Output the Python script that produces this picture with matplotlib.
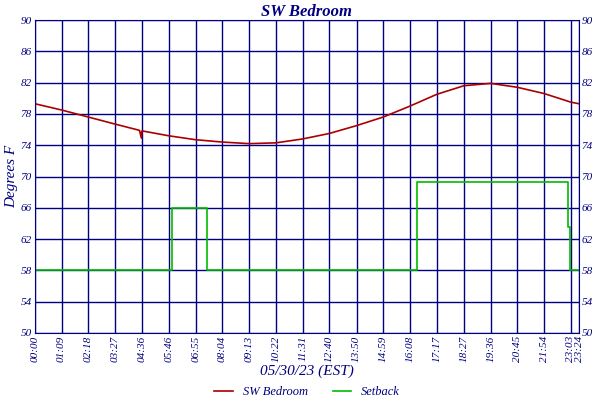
import matplotlib
matplotlib.use("Agg")
import matplotlib.pyplot as plt
import numpy as np

NAVY = "#000080"
plt.rcParams["font.family"] = "Liberation Serif"
plt.rcParams["font.style"] = "italic"

tick_labels = ["00:00", "01:09", "02:18", "03:27", "04:36", "05:46", "06:55", "08:04",
               "09:13", "10:22", "11:31", "12:40", "13:50", "14:59", "16:08", "17:17",
               "18:27", "19:36", "20:45", "21:54", "23:03", "23:24"]
tick_minutes = [int(t[:2]) * 60 + int(t[3:]) for t in tick_labels]

temp_minutes = [0, 69, 138, 207, 270, 275, 276, 280, 346, 415, 484, 553, 622, 691, 760,
                830, 899, 968, 1037, 1107, 1176, 1245, 1314, 1383, 1404]
temp_values = [79.3, 78.5, 77.6, 76.7, 75.9, 74.9, 75.8, 75.8, 75.2, 74.7, 74.4, 74.2,
               74.3, 74.8, 75.5, 76.5, 77.6, 79.0, 80.5, 81.6, 81.9, 81.4, 80.6, 79.5, 79.3]

setback_minutes = [0, 355, 355, 444, 444, 985, 985, 1376, 1376, 1380, 1380, 1404]
setback_values = [58, 58, 66, 66, 58, 58, 69.3, 69.3, 63.5, 63.5, 58, 58]

fig, ax = plt.subplots(figsize=(6, 4), dpi=100)
fig.subplots_adjust(left=0.058, right=0.965, top=0.95, bottom=0.1675)

ax.plot(temp_minutes, temp_values, color="#aa0000", linewidth=1.2, label="SW Bedroom")
ax.plot(setback_minutes, setback_values, color="#00bb00", linewidth=1.2, label="Setback")

ax.set_xlim(0, 1404)
ax.set_ylim(50, 90)
ax.set_xticks(tick_minutes)
ax.set_xticklabels(tick_labels, rotation=90, fontsize=8, color=NAVY)
yticks = np.arange(50, 91, 4)
ax.set_yticks(yticks)
ax.tick_params(axis="y", labelsize=8, labelcolor=NAVY, length=0, labelright=True, pad=2)
ax.tick_params(axis="x", length=0, pad=2)
ax.grid(True, color=NAVY, linewidth=1)
for s in ax.spines.values():
    s.set_color(NAVY)
ax.set_axisbelow(True)

ax.set_title("SW Bedroom", color=NAVY, fontsize=12, fontweight="bold", pad=3)
ax.set_ylabel("Degrees F", color=NAVY, fontsize=11, labelpad=2)
ax.set_xlabel("05/30/23 (EST)", color=NAVY, fontsize=11, labelpad=2)
ax.legend(loc="center", bbox_to_anchor=(0.5, -0.19), ncol=2, frameon=False,
          fontsize=9, labelcolor=NAVY, handlelength=1.5, borderpad=0.1)

fig.savefig("out.png", dpi=100)
